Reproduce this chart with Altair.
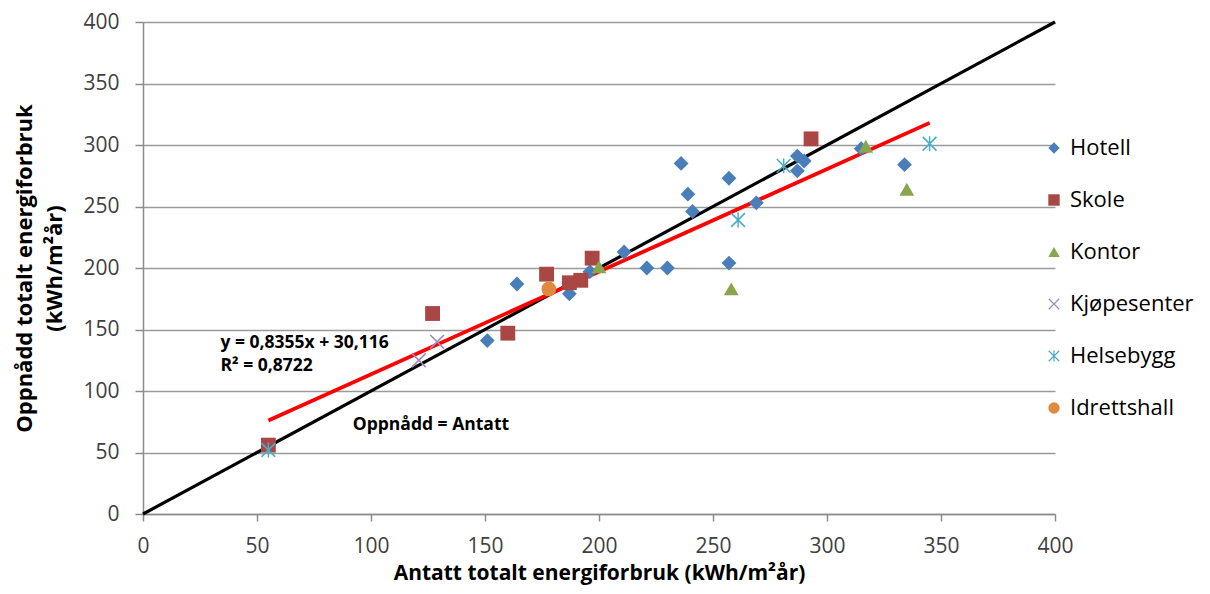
import altair as alt
import pandas as pd

# ---- data ----
categories = ["Hotell", "Skole", "Kontor", "Kjøpesenter", "Helsebygg", "Idrettshall"]
colors = ["#4A7EBB", "#AA4643", "#89A54E", "#9E8CB8", "#4BACC6", "#E08A3F"]

hotell_x = [151, 164, 187, 196, 211, 221, 230, 236, 239, 241, 257, 257, 269, 287, 287, 290, 315, 334]
hotell_y = [141, 187, 179, 197, 213, 200, 200, 285, 260, 246, 273, 204, 253, 291, 279, 287, 297, 284]
skole_x = [55, 127, 160, 177, 187, 192, 197, 293]
skole_y = [56, 163, 147, 195, 188, 190, 208, 305]
kontor_x = [200, 258, 317, 335]
kontor_y = [201, 183, 299, 264]
kjop_x = [121, 129]
kjop_y = [125, 140]
helse_x = [55, 261, 281, 345]
helse_y = [52, 239, 283, 301]
idrett_x = [178]
idrett_y = [183]

identity_x = [0, 400]
identity_y = [0, 400]
trend_x = [55, 345]
trend_y = [76, 318]

axis_ticks = [0, 50, 100, 150, 200, 250, 300, 350, 400]

annot_text = ["y = 0,8355x + 30,116", "R² = 0,8722", "Oppnådd = Antatt"]
annot_x = [34, 34, 92]
annot_y = [139, 120, 72]

# ---- build tables ----
groups = [
    (hotell_x, hotell_y), (skole_x, skole_y), (kontor_x, kontor_y),
    (kjop_x, kjop_y), (helse_x, helse_y), (idrett_x, idrett_y),
]
rows = []
for cat, (xs, ys) in zip(categories, groups):
    for xv, yv in zip(xs, ys):
        rows.append({"x": xv, "y": yv, "kind": cat})
pts = pd.DataFrame(rows)
ident = pd.DataFrame({"x": identity_x, "y": identity_y})
trend = pd.DataFrame({"x": trend_x, "y": trend_y})
annot = pd.DataFrame({"x": annot_x, "y": annot_y, "t": annot_text})

X_PATH = ("M-1,-0.85L-0.85,-1L1,0.85L0.85,1Z "
          "M-1,0.85L0.85,-1L1,-0.85L-0.85,1Z")
STAR_PATH = X_PATH + " M-0.1,-1L0.1,-1L0.1,1L-0.1,1Z"
shapes = ["diamond", "square", "triangle-up", X_PATH, STAR_PATH, "circle"]

FONT = "Open Sans"

xscale = alt.Scale(domain=[0, 400], nice=False, zero=True)
yscale = alt.Scale(domain=[0, 400], nice=False, zero=True)

xaxis = alt.Axis(values=axis_ticks, title="Antatt totalt energiforbruk (kWh/m²år)",
                 grid=False, tickSize=7, labelPadding=14, titlePadding=6, labelFlush=False,
                 titleFontSize=21)
yaxis = alt.Axis(values=axis_ticks, title=["Oppnådd totalt energiforbruk", "(kWh/m²år)"],
                 grid=True, tickSize=8, labelPadding=16, titlePadding=16, labelFlush=False)

base_x = alt.X("x:Q", scale=xscale, axis=xaxis)
base_y = alt.Y("y:Q", scale=yscale, axis=yaxis)

ident_line = alt.Chart(ident).mark_line(color="black", strokeWidth=3.2).encode(x=base_x, y=base_y)
trend_line = alt.Chart(trend).mark_line(color="#FF0000", strokeWidth=3.8).encode(x="x:Q", y="y:Q")

leg = alt.Legend(title=None, orient="none", legendX=900, legendY=115,
                 labelFontSize=22, labelFont=FONT, labelColor="#000000",
                 symbolSize=130, rowPadding=30, labelOffset=5,
                 symbolStrokeWidth=0)

points = alt.Chart(pts).mark_point(filled=True, opacity=1, size=220, strokeWidth=0).encode(
    x="x:Q",
    y="y:Q",
    color=alt.Color("kind:N", scale=alt.Scale(domain=categories, range=colors), legend=leg),
    shape=alt.Shape("kind:N", scale=alt.Scale(domain=categories, range=shapes), legend=leg),
)

texts = alt.Chart(annot).mark_text(align="left", baseline="middle", font=FONT,
                                   fontSize=17.5, fontWeight="bold", color="#000000").encode(
    x="x:Q", y="y:Q", text="t:N")

chart = alt.layer(ident_line, trend_line, points, texts).properties(
    width=912, height=492,
    autosize=alt.AutoSizeParams(type="none"),
    padding={"left": 135, "top": 14, "right": 147, "bottom": 72},
).configure_view(stroke=None).configure_axis(
    labelFont=FONT, titleFont=FONT, labelFontSize=21, titleFontSize=22,
    labelColor="#404040", titleColor="#000000", titleFontWeight="bold",
    domainColor="#8C8C8C", tickColor="#8C8C8C", gridColor="#9A9A9A",
    domainWidth=1.5, tickWidth=1.5, gridWidth=1.5, titleLineHeight=30,
)

chart.save("out.html", embed_options={"renderer": "svg", "actions": False})
